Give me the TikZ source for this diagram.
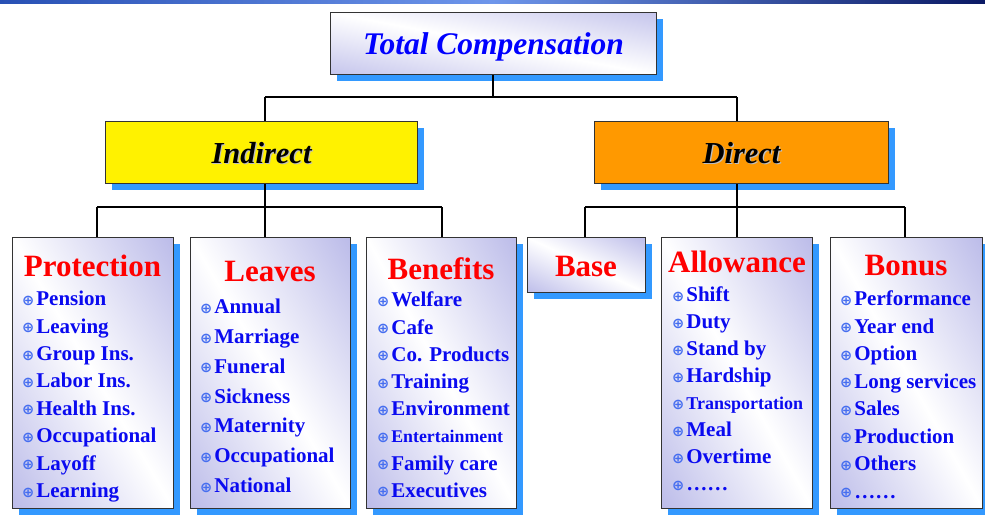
\documentclass[tikz,border=0pt]{standalone}
\usepackage{fontspec}
\setmainfont{Liberation Serif}
\newfontfamily\symfont{DejaVu Sans}
\usetikzlibrary{shadows}
\definecolor{lav}{RGB}{184,184,232}
\definecolor{shblue}{RGB}{51,153,255}
\definecolor{itemblue}{RGB}{10,10,240}
\definecolor{bulblue}{RGB}{70,110,240}
\definecolor{dirorange}{RGB}{255,153,0}
\definecolor{barA}{RGB}{40,80,180}
\definecolor{barB}{RGB}{110,150,235}
\definecolor{barC}{RGB}{10,25,100}
\pgfdeclareverticalshading{cardshade}{100bp}{color(0bp)=(lav); color(14bp)=(lav); color(50bp)=(white); color(86bp)=(lav); color(100bp)=(lav)}
\newcommand{\bul}{{\symfont\fontsize{14.5}{14.5}\selectfont\color{bulblue}\raisebox{0.5pt}{⊕}}\hspace{2pt}}
\newcommand{\embossed}[1]{\makebox[0pt][l]{\hspace{1.2pt}\raisebox{-1.2pt}{\color{black!25}#1}}#1}
\tikzset{
  boxbase/.style={draw=black!80, line width=1pt, inner sep=0pt, anchor=north west,
    drop shadow={shadow xshift=6pt, shadow yshift=-6pt, fill=shblue, opacity=1}},
  card/.style={boxbase, shading=cardshade, shading angle=#1},
  ttl/.style={font=\fontsize{31}{31}\selectfont\bfseries, text=red, inner sep=0pt},
  itemlist/.style={font=\fontsize{21}{#1}\selectfont\bfseries, text=itemblue, align=left, anchor=north west, inner sep=0pt},
  conn/.style={line width=1.4pt, black},
}
\begin{document}
\begin{tikzpicture}[x=1pt,y=-1pt]
\useasboundingbox (0,0) rectangle (985,517);
\fill[left color=barA, right color=barC, middle color=barB] (0,0) rectangle (985,3.5);

% top
\node[card=-10.8, minimum width=326pt, minimum height=62pt] (total) at (330,12) {};
\node[font=\fontsize{31.5}{31.5}\selectfont\bfseries\itshape, text=blue] (totalt) at ([yshift=-3pt]total.center) {Total Compensation};

\node[boxbase, fill=yellow, minimum width=312pt, minimum height=62pt] (indirect) at (105,121) {};
\node[font=\fontsize{30.5}{30.5}\selectfont\bfseries\itshape] (indirectt) at ([yshift=-1pt]indirect.center) {\embossed{Indirect}};
\node[boxbase, fill=dirorange, minimum width=294pt, minimum height=62pt] (direct) at (594,121) {};
\node[font=\fontsize{30.5}{30.5}\selectfont\bfseries\itshape] (directt) at ([yshift=-1pt]direct.center) {\embossed{Direct}};

% leaf boxes
\node[card=-59.3, minimum width=161pt, minimum height=271pt] (prot) at (12,237) {};
\node[card=-59.4, minimum width=160pt, minimum height=271pt] (leaves) at (190,237) {};
\node[card=-61.0, minimum width=150pt, minimum height=271pt] (ben) at (366,237) {};
\node[card=-25.0, minimum width=118pt, minimum height=55pt] (base) at (527,237) {};
\node[card=-60.9, minimum width=151pt, minimum height=271pt] (allow) at (661,237) {};
\node[card=-60.7, minimum width=152pt, minimum height=271pt] (bonus) at (830,237) {};

% connectors
\coordinate (busT) at (493,97);
\coordinate (busI) at (265,207);
\coordinate (busD) at (737,207);
\draw[conn] (total.south -| busT) -- (busT);
\draw[conn] (265,97) -- (737,97);
\draw[conn] (265,97) -- (indirect.north -| busI);
\draw[conn] (737,97) -- (direct.north -| busD);
\draw[conn] (indirect.south -| busI) -- (busI);
\draw[conn] (97,207) -- (442,207);
\draw[conn] (97,207) -- (prot.north -| 97,0);
\draw[conn] (265,207) -- (leaves.north -| 265,0);
\draw[conn] (442,207) -- (ben.north -| 442,0);
\draw[conn] (direct.south -| busD) -- (busD);
\draw[conn] (585,207) -- (905,207);
\draw[conn] (585,207) -- (base.north -| 585,0);
\draw[conn] (737,207) -- (allow.north -| 737,0);
\draw[conn] (905,207) -- (bonus.north -| 905,0);

% titles
\node[ttl] (protT) at (92.5,266) {Protection};
\node[ttl] (leavesT) at (270,271) {Leaves};
\node[ttl] (benT) at (441,269) {Benefits};
\node[ttl] (baseT) at (586,266) {Base};
\node[ttl] (allowT) at (737,262) {Allowance};
\node[ttl] (bonusT) at (906,266) {Bonus};

% lists
\node[itemlist=27.4pt] (protL) at (22,291) {\bul Pension\\\bul Leaving\\\bul Group Ins.\\\bul Labor Ins.\\\bul Health Ins.\\\bul Occupational\\\bul Layoff\\\bul Learning};
\node[itemlist=29.8pt] (leavesL) at (200,299) {\bul Annual\\\bul Marriage\\\bul Funeral\\\bul Sickness\\\bul Maternity\\\bul Occupational\\\bul National};
\node[itemlist=27.2pt] (benL) at (377,292) {\bul Welfare\\\bul Cafe\\\bul Co. Products\\\bul Training\\\bul Environment\\{\fontsize{17.8}{17.8}\selectfont\bul Entertainment}\\\bul Family care\\\bul Executives};
\node[itemlist=27pt] (allowL) at (672,287) {\bul Shift\\\bul Duty\\\bul Stand by\\\bul Hardship\\{\fontsize{18}{18}\selectfont\bul Transportation}\\\bul Meal\\\bul Overtime\\\bul ……};
\node[itemlist=27.5pt] (bonusL) at (840,291) {\bul Performance\\\bul Year end\\\bul Option\\\bul Long services\\\bul Sales\\\bul Production\\\bul Others\\\bul ……};
\end{tikzpicture}
\end{document}
